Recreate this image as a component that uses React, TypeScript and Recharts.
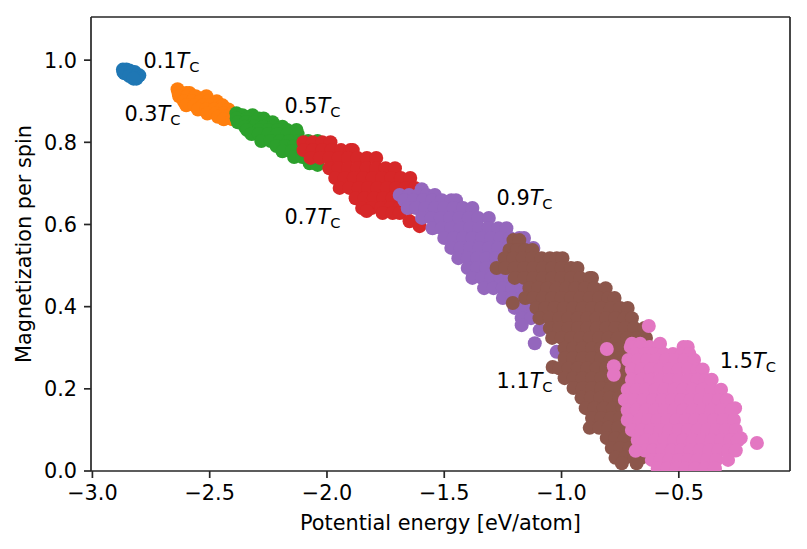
import { ScatterChart, Scatter, XAxis, YAxis, ReferenceLine, ReferenceDot } from 'recharts';

const XTICKS = [-3, -2.5, -2, -1.5, -1, -0.5];
const YTICKS = [0, 0.2, 0.4, 0.6, 0.8, 1.0];
const XLIM: [number, number] = [-3.006, -0.026];
const YLIM: [number, number] = [0, 1.105];

type Row = [number, number[]];

// each row is one magnetization value and the energies at that height
const T01: Row[] = [
    [0.977, [-2.87, -2.855]],
    [0.975, [-2.842]],
    [0.971, [-2.868, -2.85, -2.82]],
    [0.968, [-2.863, -2.84]],
    [0.963, [-2.83, -2.8]],
    [0.961, [-2.842, -2.815]],
    [0.955, [-2.812, -2.825]],
];
const T03: Row[] = [
    [0.929, [-2.637]],
    [0.92, [-2.633, -2.6, -2.586]],
    [0.912, [-2.63, -2.595, -2.56, -2.514]],
    [0.9, [-2.61, -2.575, -2.54, -2.505, -2.47]],
    [0.89, [-2.6, -2.565, -2.53, -2.495, -2.46, -2.445]],
    [0.88, [-2.55, -2.515, -2.48, -2.45, -2.42]],
    [0.87, [-2.51, -2.475, -2.44, -2.405]],
    [0.862, [-2.465, -2.43, -2.4]],
    [0.856, [-2.44, -2.403]],
];
const T05: Row[] = [
    [0.871, [-2.386]],
    [0.866, [-2.36, -2.318]],
    [0.858, [-2.385, -2.34, -2.29, -2.27]],
    [0.849, [-2.38, -2.345, -2.31, -2.27, -2.232]],
    [0.838, [-2.35, -2.31, -2.27, -2.23, -2.19]],
    [0.83, [-2.34, -2.29, -2.25, -2.21, -2.17, -2.13]],
    [0.82, [-2.322, -2.29, -2.25, -2.21, -2.17, -2.125]],
    [0.803, [-2.28, -2.24, -2.2, -2.16, -2.12, -2.08, -2.04]],
    [0.791, [-2.215, -2.18, -2.14, -2.1, -2.06, -2.03]],
    [0.778, [-2.19, -2.15, -2.11, -2.07, -2.04]],
    [0.764, [-2.14, -2.105, -2.075, -2.04]],
    [0.749, [-2.074, -2.049]],
    [0.745, [-2.04]],
];
const T07: Row[] = [
    [0.8, [-2.1, -2.06, -2.02, -1.985]],
    [0.781, [-2.1, -2.06, -2.02, -1.98, -1.94, -1.9, -1.89]],
    [0.762, [-2.07, -2.03, -1.99, -1.95, -1.91, -1.87, -1.83, -1.79]],
    [0.737, [-1.99, -1.95, -1.91, -1.87, -1.83, -1.79, -1.75, -1.71]],
    [0.713, [-1.965, -1.925, -1.885, -1.845, -1.805, -1.765, -1.725, -1.685, -1.645]],
    [0.689, [-1.946, -1.905, -1.865, -1.825, -1.785, -1.745, -1.705, -1.665, -1.625]],
    [0.664, [-1.878, -1.84, -1.8, -1.76, -1.72, -1.68, -1.64]],
    [0.64, [-1.85, -1.81, -1.77, -1.73, -1.69, -1.65]],
    [0.633, [-1.831]],
    [0.628, [-1.763, -1.72, -1.69]],
    [0.608, [-1.648]],
    [0.596, [-1.605]],
];
const T09: Row[] = [
    [0.686, [-1.596]],
    [0.672, [-1.69, -1.65, -1.61, -1.575, -1.54]],
    [0.659, [-1.67, -1.63, -1.59, -1.55, -1.51, -1.47, -1.45]],
    [0.64, [-1.656, -1.62, -1.58, -1.54, -1.5, -1.46, -1.42, -1.38]],
    [0.616, [-1.595, -1.555, -1.515, -1.475, -1.435, -1.395, -1.355, -1.31]],
    [0.591, [-1.55, -1.51, -1.47, -1.43, -1.39, -1.35, -1.31, -1.27, -1.235]],
    [0.567, [-1.5, -1.46, -1.42, -1.38, -1.34, -1.3, -1.26, -1.22, -1.18, -1.16]],
    [0.543, [-1.47, -1.43, -1.39, -1.35, -1.31, -1.27, -1.23, -1.19, -1.15, -1.12]],
    [0.518, [-1.44, -1.4, -1.36, -1.32, -1.28]],
    [0.494, [-1.4, -1.36, -1.32, -1.28]],
    [0.47, [-1.38, -1.34, -1.3, -1.26, -1.22]],
    [0.445, [-1.33, -1.29, -1.25, -1.21, -1.17]],
    [0.421, [-1.25, -1.21, -1.17, -1.13]],
    [0.397, [-1.2, -1.16, -1.12]],
    [0.372, [-1.17, -1.13, -1.09]],
    [0.355, [-1.17]],
    [0.343, [-1.093]],
    [0.311, [-1.114]],
    [0.29, [-1.021]],
];
const T11: Row[] = [
    [0.562, [-1.205, -1.18]],
    [0.538, [-1.222, -1.19, -1.155, -1.124]],
    [0.518, [-1.243, -1.205, -1.165, -1.125, -1.085, -1.05, -1.02, -0.996]],
    [0.494, [-1.277, -1.24, -1.2, -1.16, -1.12, -1.08, -1.04, -1.0, -0.96, -0.932]],
    [0.47, [-1.2, -1.16, -1.12, -1.08, -1.04, -1.0, -0.96, -0.92, -0.88, -0.87]],
    [0.445, [-1.137, -1.1, -1.06, -1.02, -0.98, -0.94, -0.9, -0.86, -0.812]],
    [0.421, [-1.155, -1.12, -1.08, -1.04, -1.0, -0.96, -0.92, -0.88, -0.84, -0.8, -0.774]],
    [0.409, [-1.208]],
    [0.397, [-1.107, -1.07, -1.03, -0.99, -0.95, -0.91, -0.87, -0.83, -0.79, -0.75, -0.718]],
    [0.372, [-1.094, -1.05, -1.01, -0.97, -0.93, -0.89, -0.85, -0.81, -0.77, -0.73, -0.7]],
    [0.348, [-1.05, -1.01, -0.97, -0.93, -0.89, -0.85, -0.81, -0.77, -0.73, -0.69, -0.646]],
    [0.324, [-1.04, -1.0, -0.96, -0.92, -0.88, -0.84, -0.8, -0.76, -0.72, -0.68, -0.64]],
    [0.299, [-0.987, -0.95, -0.91, -0.87, -0.83, -0.79, -0.75, -0.71, -0.67]],
    [0.275, [-0.987, -0.95, -0.91, -0.87, -0.83, -0.79, -0.75, -0.71, -0.67]],
    [0.253, [-1.038]],
    [0.25, [-1.01, -0.97, -0.93, -0.89, -0.85, -0.81, -0.77, -0.73, -0.69]],
    [0.226, [-0.987, -0.95, -0.91, -0.87, -0.83, -0.79, -0.75, -0.71]],
    [0.202, [-0.949, -0.91, -0.87, -0.83, -0.79, -0.75, -0.71]],
    [0.178, [-0.915, -0.875, -0.835, -0.795, -0.755, -0.715]],
    [0.153, [-0.897, -0.86, -0.82, -0.78, -0.74, -0.7]],
    [0.129, [-0.87, -0.83, -0.79, -0.75, -0.71]],
    [0.105, [-0.88, -0.84, -0.8, -0.76, -0.72]],
    [0.08, [-0.807, -0.77, -0.73, -0.69]],
    [0.056, [-0.786, -0.75, -0.71, -0.67]],
    [0.032, [-0.77, -0.73, -0.69, -0.66]],
    [0.019, [-0.743, -0.68]],
];
const T15: Row[] = [
    [0.353, [-0.628]],
    [0.31, [-0.7, -0.665, -0.58]],
    [0.302, [-0.705, -0.665, -0.625, -0.585, -0.48, -0.462]],
    [0.297, [-0.807]],
    [0.285, [-0.685, -0.645, -0.605, -0.565, -0.525, -0.485, -0.455]],
    [0.27, [-0.715, -0.675, -0.635, -0.595, -0.555, -0.515, -0.475, -0.435]],
    [0.255, [-0.777]],
    [0.247, [-0.7, -0.66, -0.62, -0.58, -0.54, -0.5, -0.46, -0.42, -0.398]],
    [0.234, [-0.777]],
    [0.222, [-0.7, -0.66, -0.62, -0.58, -0.54, -0.5, -0.46, -0.42, -0.385, -0.36]],
    [0.198, [-0.718, -0.68, -0.64, -0.6, -0.56, -0.52, -0.48, -0.44, -0.4, -0.36, -0.32]],
    [0.173, [-0.73, -0.69, -0.65, -0.61, -0.57, -0.53, -0.49, -0.45, -0.41, -0.37, -0.33, -0.295]],
    [0.153, [-0.26]],
    [0.148, [-0.718, -0.68, -0.64, -0.6, -0.56, -0.52, -0.48, -0.44, -0.4, -0.36, -0.32, -0.275]],
    [0.124, [-0.718, -0.67, -0.63, -0.59, -0.55, -0.51, -0.47, -0.43, -0.39, -0.35, -0.31, -0.265]],
    [0.1, [-0.7, -0.66, -0.62, -0.58, -0.54, -0.5, -0.46, -0.42, -0.38, -0.34, -0.3, -0.257]],
    [0.08, [-0.236]],
    [0.075, [-0.675, -0.64, -0.6, -0.56, -0.52, -0.48, -0.44, -0.4, -0.36, -0.32, -0.28, -0.248]],
    [0.068, [-0.167]],
    [0.05, [-0.645, -0.61, -0.57, -0.53, -0.49, -0.45, -0.41, -0.37, -0.33, -0.29, -0.257]],
    [0.049, [-0.684]],
    [0.027, [-0.615, -0.58, -0.54, -0.5, -0.46, -0.42, -0.38, -0.34, -0.29]],
    [0.006, [-0.59, -0.55, -0.51, -0.47, -0.43, -0.39, -0.346]],
];

const SERIES = [T01, T03, T05, T07, T09, T11, T15];
const COLORS = ['#1f77b4', '#ff7f0e', '#2ca02c', '#d62728', '#9467bd', '#8c564b', '#e377c2'];

const LABEL_TEXT = ['0.1', '0.3', '0.5', '0.7', '0.9', '1.1', '1.5'];
const LABEL_X = [-2.782, -2.863, -2.181, -2.181, -1.277, -1.277, -0.325];
const LABEL_Y = [0.98, 0.851, 0.871, 0.601, 0.648, 0.202, 0.251];

const FONT = 'DejaVu Sans';
const INK = '#262626';
const FONT_SIZE = 20.8;

const fmt = (v: number) => v.toFixed(1).replace('-', '\u2212');

const toPoints = (rows: Row[]) => rows.flatMap(([y, xs]) => xs.map(x => ({ x, y })));

export default function App() {
    return (
        <div style={{ position: 'absolute', left: 0, top: 0, background: '#fff' }}>
            <ScatterChart width={807} height={549} margin={{ top: 17, right: 17, left: 0, bottom: 0 }} style={{ fontFamily: FONT }}>
                <XAxis
                    type="number"
                    dataKey="x"
                    domain={XLIM}
                    ticks={XTICKS}
                    allowDataOverflow
                    height={78}
                    tickFormatter={fmt}
                    tickSize={7}
                    tickMargin={7}
                    tick={{ fill: '#000', fontSize: FONT_SIZE }}
                    axisLine={{ stroke: INK, strokeWidth: 1.7 }}
                    tickLine={{ stroke: INK, strokeWidth: 1.7 }}
                    interval={0}
                    label={{ value: 'Potential energy [eV/atom]', position: 'insideBottom', offset: 19, fill: '#000', fontSize: FONT_SIZE }}
                />
                <YAxis
                    type="number"
                    dataKey="y"
                    domain={YLIM}
                    ticks={YTICKS}
                    allowDataOverflow
                    width={91}
                    tickFormatter={(v: number) => v.toFixed(1)}
                    tickSize={7}
                    tickMargin={7}
                    tick={{ fill: '#000', fontSize: FONT_SIZE }}
                    axisLine={{ stroke: INK, strokeWidth: 1.7 }}
                    tickLine={{ stroke: INK, strokeWidth: 1.7 }}
                    interval={0}
                    label={{ value: 'Magnetization per spin', angle: -90, position: 'insideLeft', offset: 24, fill: '#000', fontSize: FONT_SIZE, style: { textAnchor: 'middle' } }}
                />
                <ReferenceLine y={YLIM[1]} stroke={INK} strokeWidth={1.7} ifOverflow="visible" />
                <ReferenceLine x={XLIM[1]} stroke={INK} strokeWidth={1.7} ifOverflow="visible" />
                {SERIES.map((rows, i) => (
                    <Scatter
                        key={i}
                        data={toPoints(rows)}
                        fill={COLORS[i]}
                        isAnimationActive={false}
                        shape={(p: any) => <circle cx={p.cx} cy={p.cy} r={7} fill={COLORS[i]} />}
                    />
                ))}
                {LABEL_TEXT.map((t, i) => (
                    <ReferenceDot
                        key={t}
                        x={LABEL_X[i]}
                        y={LABEL_Y[i]}
                        ifOverflow="visible"
                        shape={(p: any) => (
                            <text x={p.cx} y={p.cy} fill="#000" fontSize={FONT_SIZE} fontFamily={FONT}>
                                {t}
                                <tspan fontStyle="italic">T</tspan>
                                <tspan fontSize={14.6} dy={4}>C</tspan>
                            </text>
                        )}
                    />
                ))}
            </ScatterChart>
        </div>
    );
}
